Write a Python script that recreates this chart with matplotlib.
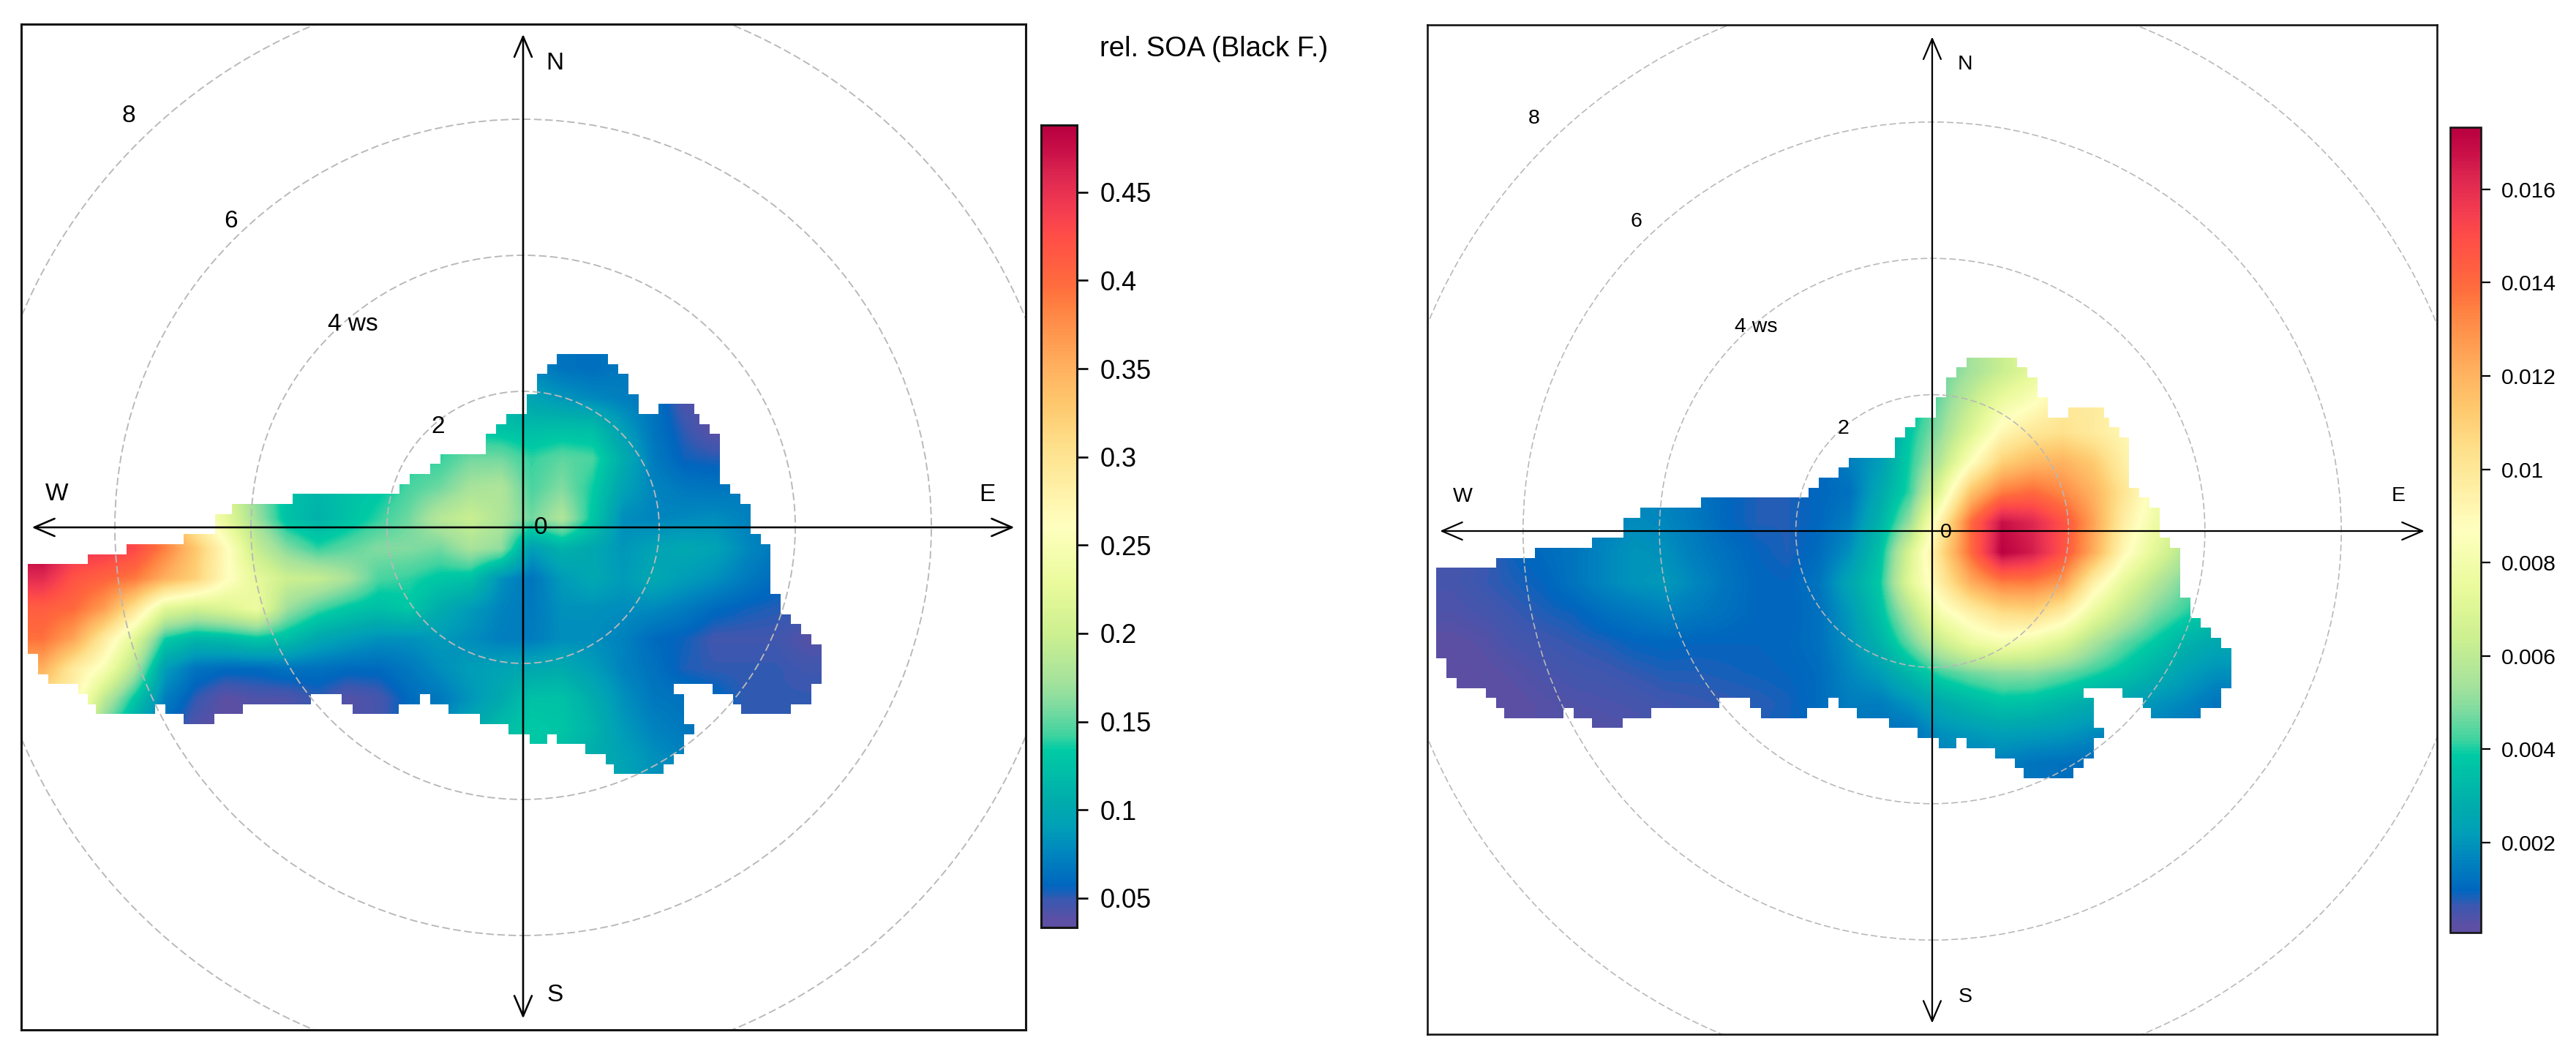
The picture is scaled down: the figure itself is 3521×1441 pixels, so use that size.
import matplotlib
matplotlib.use("Agg")
import matplotlib.pyplot as plt
from matplotlib.cm import ScalarMappable
from matplotlib.colors import LinearSegmentedColormap, Normalize
from matplotlib.patches import Circle, PathPatch
from matplotlib.path import Path

plt.rcParams['font.family'] = ['Liberation Sans', 'DejaVu Sans']

W, H = 3521, 1441

# colour scale (position 0-1, colour)
key_pos = [0, .008, .032, .05, .093, .123, .153, .22, .2385, .275, .305, .366, .427, .5,
           .6, .65, .70, .773, .803, .864, .894, .94, .97, 1]
key_col = ['#5E4FA2', '#5B50A5', '#3B58B0', '#0066BF', '#0087BE', '#009FB8', '#00ABAD',
           '#00CBA4', '#3FD3A0', '#7FDBA0', '#A4E29C', '#CDF090', '#E9FA9B', '#FFFFBF',
           '#FEE08B', '#FEC96E', '#FFB05E', '#FF8242', '#FF6B3D', '#FF4D47', '#F53D50',
           '#DC2650', '#C90F47', '#B80040']
cmap = LinearSegmentedColormap.from_list('spec', list(zip(key_pos, key_col)), N=256)

# wind speed rings
rings = [2, 4, 6, 8]

# grid cells of the surface, in wind speed units
cell_u, cell_v = 0.1495, 0.147
col0, row0 = 48.66, 17.33
n_cols, n_rows = 78, 42

# which cells of each row hold data (start col, end col), top row first
blob_rows = [
    [(52, 57)], [(51, 58)], [(50, 59)], [(50, 59)], [(49, 60)],
    [(49, 60), (62, 65.5)], [(47, 66)], [(46, 67)], [(45, 68)], [(45, 68)],
    [(40.5, 68)], [(39.5, 68)], [(37.5, 68)], [(36.5, 69)], [(26, 70)],
    [(20, 71)], [(18.4, 71)], [(18.4, 71)], [(15.3, 72)], [(9.7, 73)],
    [(5.9, 73)], [(0, 73)], [(0, 73)], [(0, 73)], [(0, 74)],
    [(0, 74)], [(0, 75)], [(0, 76)], [(0, 77)], [(0, 78)],
    [(1, 78)], [(1, 78)], [(2, 78)], [(4.9, 63.5), (67.3, 77)],
    [(5.9, 27.8), (30.8, 38.5), (39.5, 64.5), (69.3, 77)],
    [(6.65, 12.5), (13.5, 21.1), (31.9, 36.4), (41.3, 64.5), (70.1, 75)],
    [(15.3, 18.3), (44.4, 64.5)], [(47.2, 65.5)], [(49.3, 51), (52, 64.5)],
    [(54.8, 64.5)], [(56.8, 63.5)], [(57.6, 62.5)],
]

# rel. SOA (Black F.), values read every third cell
soa = [
    [.140, .140, .140, .140, .140, .140, .140, .140, .140, .140, .140, .140, .140, .140, .130, .110, .075, .065, .062, .068, .066, .050, .040, .040, .040, .040],
    [.140, .140, .140, .140, .140, .140, .140, .140, .140, .140, .140, .140, .140, .140, .130, .110, .095, .085, .078, .072, .066, .042, .036, .040, .040, .040],
    [.140, .140, .140, .140, .140, .140, .140, .140, .140, .140, .140, .140, .140, .140, .130, .125, .120, .122, .120, .090, .066, .050, .036, .040, .045, .045],
    [.440, .430, .400, .350, .300, .260, .200, .160, .130, .120, .125, .130, .135, .140, .155, .155, .140, .150, .145, .105, .070, .055, .052, .055, .060, .060],
    [.460, .440, .420, .380, .320, .270, .210, .160, .125, .115, .125, .130, .145, .155, .175, .180, .145, .160, .135, .095, .075, .068, .066, .070, .070, .065],
    [.490, .470, .450, .410, .360, .280, .225, .170, .125, .110, .125, .140, .155, .185, .198, .180, .155, .180, .130, .080, .075, .078, .080, .074, .070, .065],
    [.490, .450, .445, .430, .385, .330, .265, .195, .160, .140, .150, .160, .160, .155, .175, .165, .090, .110, .100, .085, .095, .100, .095, .078, .068, .065],
    [.455, .420, .405, .390, .350, .320, .265, .225, .200, .195, .175, .145, .140, .130, .125, .082, .066, .088, .100, .088, .100, .090, .082, .070, .060, .058],
    [.410, .400, .365, .300, .220, .205, .215, .235, .170, .145, .130, .122, .130, .105, .088, .075, .068, .082, .082, .080, .078, .070, .060, .055, .052, .050],
    [.395, .360, .290, .220, .135, .115, .120, .130, .122, .100, .090, .082, .082, .088, .080, .072, .070, .080, .080, .074, .060, .055, .047, .047, .047, .040],
    [.350, .290, .250, .180, .090, .065, .060, .060, .065, .064, .060, .060, .068, .080, .090, .095, .100, .103, .090, .074, .064, .053, .050, .050, .050, .047],
    [.300, .280, .190, .130, .072, .050, .037, .042, .042, .050, .040, .045, .060, .068, .085, .102, .125, .125, .105, .082, .068, .065, .060, .050, .050, .050],
    [.300, .250, .150, .100, .060, .040, .036, .040, .045, .050, .040, .045, .060, .080, .100, .120, .132, .128, .112, .088, .074, .068, .060, .050, .050, .050],
    [.300, .250, .150, .100, .060, .040, .036, .040, .045, .050, .040, .045, .060, .080, .100, .120, .130, .120, .105, .095, .082, .075, .060, .050, .050, .050],
]

# second panel, same grid
other = [
    [.0010, .0010, .0010, .0010, .0010, .0010, .0015, .0015, .0012, .0010, .0008, .0008, .0010, .0015, .0020, .0035, .0045, .0054, .0063, .0073, .0085, .0090, .0090, .0085, .0080, .0080],
    [.0010, .0010, .0010, .0010, .0010, .0010, .0015, .0015, .0012, .0010, .0008, .0008, .0010, .0015, .0020, .0035, .0047, .0062, .0077, .0085, .0098, .0098, .0092, .0085, .0080, .0080],
    [.0010, .0010, .0010, .0010, .0010, .0010, .0015, .0015, .0012, .0010, .0008, .0008, .0010, .0015, .0020, .0038, .0051, .0070, .0091, .0100, .0103, .0098, .0091, .0085, .0080, .0075],
    [.0005, .0006, .0008, .0010, .0011, .0014, .0016, .0015, .0012, .0010, .0008, .0008, .0010, .0015, .0022, .0040, .0058, .0086, .0110, .0118, .0120, .0112, .0095, .0085, .0075, .0070],
    [.0005, .0006, .0008, .0010, .0011, .0015, .0017, .0016, .0013, .0010, .0008, .0008, .0010, .0012, .0026, .0042, .0073, .0115, .0135, .0140, .0132, .0120, .0101, .0082, .0070, .0065],
    [.0005, .0006, .0008, .0010, .0012, .0016, .0018, .0017, .0014, .0010, .0008, .0008, .0010, .0015, .0030, .0052, .0095, .0140, .0168, .0162, .0148, .0125, .0096, .0078, .0065, .0055],
    [.0005, .0006, .0009, .0011, .0013, .0017, .0020, .0019, .0015, .0012, .00095, .0008, .0011, .0019, .0035, .0069, .0105, .0140, .0172, .0165, .0148, .0122, .0090, .0072, .0056, .0050],
    [.0005, .00065, .0008, .00095, .0013, .0017, .0020, .0021, .0017, .0013, .0010, .00095, .0013, .0025, .0038, .0072, .0097, .0122, .0135, .0135, .0127, .0095, .0073, .0058, .0047, .0040],
    [.0004, .0005, .00065, .0008, .0009, .0012, .0014, .0016, .0014, .0012, .0010, .00095, .0012, .0021, .0035, .0057, .0082, .0095, .0105, .0107, .0097, .0075, .0060, .0048, .0041, .0035],
    [.0002, .0003, .0005, .0006, .0007, .0008, .00095, .0010, .00095, .00095, .00095, .0010, .0012, .0019, .0030, .0046, .0063, .0076, .0082, .0078, .0069, .0055, .0045, .0038, .0030, .0026],
    [.00015, .0002, .0003, .00045, .00055, .0006, .0007, .0008, .0008, .00085, .0009, .00095, .0011, .0017, .0022, .0032, .0042, .0047, .0050, .0050, .0046, .0041, .0036, .0029, .0023, .0019],
    [.0002, .00025, .0002, .0003, .0004, .00045, .0005, .0006, .00065, .0007, .00075, .00085, .0011, .0015, .0015, .0020, .0027, .0032, .0036, .0035, .0031, .0027, .0024, .0020, .0017, .0013],
    [.0002, .00025, .0002, .0003, .0003, .0003, .0004, .0005, .0006, .0007, .0008, .0009, .0010, .0012, .0012, .0012, .0019, .0021, .0023, .0022, .0021, .0018, .0016, .0015, .0013, .0012],
    [.0002, .00025, .0002, .0003, .0003, .0003, .0004, .0005, .0006, .0007, .0008, .0009, .0010, .0012, .0012, .0012, .0015, .0015, .0015, .0013, .0012, .0011, .0012, .0012, .0012, .0012],
]

# colour key ranges and ticks
soa_range = (0.0334, 0.488)
other_range = (0.00007, 0.01733)
soa_ticks = [0.05, 0.1, 0.15, 0.2, 0.25, 0.3, 0.35, 0.4, 0.45]
soa_tick_labels = ['0.05', '0.1', '0.15', '0.2', '0.25', '0.3', '0.35', '0.4', '0.45']
other_ticks = [0.002, 0.004, 0.006, 0.008, 0.01, 0.012, 0.014, 0.016]
other_tick_labels = ['0.002', '0.004', '0.006', '0.008', '0.01', '0.012', '0.014', '0.016']

fig = plt.figure(figsize=(W / 100, H / 100), dpi=100, facecolor='white')


def px_axes(x0, y0, x1, y1):
    return fig.add_axes([x0 / W, 1 - y1 / H, (x1 - x0) / W, (y1 - y0) / H])


def blob_path():
    verts, codes = [], []
    for i, segs in enumerate(blob_rows):
        top = (row0 - i) * cell_v
        bot = (row0 - i - 1) * cell_v
        for a, b in segs:
            ua = (a - col0) * cell_u
            ub = (b - col0) * cell_u
            verts += [(ua, top), (ub, top), (ub, bot), (ua, bot), (ua, top)]
            codes += [Path.MOVETO, Path.LINETO, Path.LINETO, Path.LINETO, Path.CLOSEPOLY]
    return Path(verts, codes)


def panel(box, centre, unit, values, vrange, fs, lw, labels):
    ax = px_axes(*box)
    extent = ((0 - col0) * cell_u, (n_cols - col0) * cell_u,
              (row0 - n_rows) * cell_v, row0 * cell_v)
    im = ax.imshow(values, cmap=cmap, vmin=vrange[0], vmax=vrange[1], extent=extent,
                   interpolation='bilinear', aspect='auto', zorder=1)
    im.set_clip_path(PathPatch(blob_path(), transform=ax.transData))

    ax.set_xlim((box[0] - centre[0]) / unit, (box[2] - centre[0]) / unit)
    ax.set_ylim((centre[1] - box[3]) / unit, (centre[1] - box[1]) / unit)
    ax.set_xticks([])
    ax.set_yticks([])
    for s in ax.spines.values():
        s.set_linewidth(lw)
        s.set_color('#151515')

    for r in rings:
        ax.add_patch(Circle((0, 0), r, fill=False, ec='#B8B8B8', lw=lw * 0.62,
                            ls=(0, (5.5, 2.5)), zorder=2))

    arrow = dict(arrowstyle='<->,head_length=20,head_width=8.6', lw=lw * 0.85, color='black',
                 shrinkA=0, shrinkB=0, mutation_scale=1)
    ax.annotate('', xy=(-7.22, 0), xytext=(7.22, 0), arrowprops=arrow, zorder=3)
    ax.annotate('', xy=(0, 7.25), xytext=(0, -7.22), arrowprops=arrow, zorder=3)

    for txt, x, y, ha in labels:
        ax.text(x, y, txt, fontsize=fs, ha=ha, va='center', color='black', zorder=4)
    return ax


def key(box, vrange, ticks, tick_labels, fs, lw, pad, ticklen):
    cax = px_axes(*box)
    sm = ScalarMappable(norm=Normalize(*vrange), cmap=cmap)
    cb = fig.colorbar(sm, cax=cax, ticks=ticks)
    cb.ax.set_yticklabels(tick_labels)
    cb.ax.tick_params(length=ticklen, width=lw * 0.85, pad=pad, labelsize=fs, color='black')
    cb.outline.set_linewidth(lw)
    cb.outline.set_edgecolor('#151515')


panel((29, 33, 1402, 1408), (715, 721), 93.0, soa, soa_range, 24.0, 2.2,
      [('8', -5.80, 6.05, 'center'), ('6', -4.29, 4.50, 'center'),
       ('4 ws', -2.87, 2.98, 'left'), ('2', -1.25, 1.48, 'center'),
       ('0', 0.26, -0.01, 'center'), ('N', 0.47, 6.82, 'center'),
       ('S', 0.47, -6.88, 'center'), ('W', -6.85, 0.49, 'center'),
       ('E', 6.82, 0.48, 'center')])
panel((1951, 34, 3331, 1414), (2641, 726), 93.2, other, other_range, 20.5, 1.9,
      [('8', -5.84, 6.05, 'center'), ('6', -4.34, 4.54, 'center'),
       ('4 ws', -2.90, 2.99, 'left'), ('2', -1.30, 1.50, 'center'),
       ('0', 0.20, -0.02, 'center'), ('N', 0.48, 6.85, 'center'),
       ('S', 0.48, -6.83, 'center'), ('W', -6.88, 0.50, 'center'),
       ('E', 6.84, 0.51, 'center')])

key((1423, 171, 1472, 1268), soa_range, soa_ticks, soa_tick_labels, 26.0, 2.2, 12, 10.8)
key((3349, 174, 3391, 1275), other_range, other_ticks, other_tick_labels, 21.6, 1.9, 11, 9.4)

fig.text(1503 / W, 1 - 67 / H, 'rel. SOA (Black F.)', fontsize=27.5, ha='left', va='center')

fig.savefig('out.png', dpi=100, facecolor='white')
